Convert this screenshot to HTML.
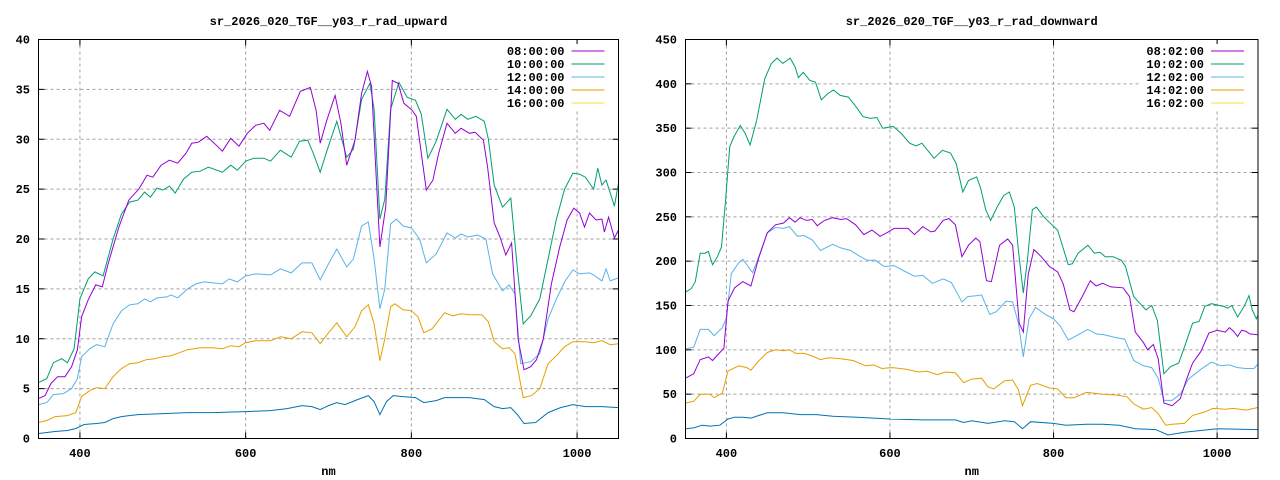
<!DOCTYPE html>
<html><head><meta charset="utf-8"><style>
html,body{margin:0;padding:0;background:#fff;}
svg{display:block;}
text{font-family:"Liberation Mono",monospace;font-size:12px;font-weight:bold;fill:#000;}
</style></head><body>
<svg id="s" width="1280" height="480" xmlns="http://www.w3.org/2000/svg"></svg>
<script>
const S=document.getElementById('s');let h='';
const L={x0:38.5,x1:618.5,y0:438.5,y1:39.5,ymax:40,ystep:5,title:'sr_2026_020_TGF__y03_r_rad_upward',lab:['08:00:00','10:00:00','12:00:00','14:00:00','16:00:00'],ylx:30};
const R={x0:685.5,x1:1258,y0:438.5,y1:39.5,ymax:450,ystep:50,title:'sr_2026_020_TGF__y03_r_rad_downward',lab:['08:02:00','10:02:00','12:02:00','14:02:00','16:02:00'],ylx:677};
const cols=['#9400d3','#009e73','#56b4e9','#e69f00','#f0e442'];
const P=a=>{let r=[];for(let i=0;i<a.length;i+=2)r.push([a[i],a[i+1]]);return r;};
L.series=[
['#0072b2',P([350,0.5,360,0.6,370,0.7,385,0.8,395,1,405,1.4,420,1.5,430,1.6,440,2,450,2.2,470,2.4,500,2.5,530,2.6,560,2.6,600,2.7,630,2.8,650,3.0,668,3.3,680,3.2,690,2.9,700,3.3,710,3.6,720,3.4,735,3.9,748,4.3,755,3.7,762,2.4,770,3.7,778,4.3,790,4.2,805,4.1,815,3.6,830,3.8,840,4.1,870,4.1,888,3.9,900,3.2,910,3,920,3.1,928,2.4,936,1.5,950,1.6,965,2.6,980,3.1,995,3.4,1010,3.2,1030,3.2,1050,3.1])],
['#e69f00',P([350,1.6,360,1.8,370,2.2,385,2.3,395,2.6,402,4.2,412,4.8,420,5.1,430,5,440,6.2,450,7,460,7.5,470,7.6,480,7.9,490,8,500,8.2,510,8.3,520,8.6,530,8.9,545,9.1,560,9.1,572,9,582,9.3,592,9.2,600,9.6,612,9.8,630,9.8,642,10.2,655,10,668,10.7,680,10.6,690,9.5,700,10.6,710,11.6,722,10.2,732,11.2,740,12.8,748,13.4,755,11.5,762,7.8,768,10,775,13.2,780,13.5,790,12.9,800,12.8,808,12.2,815,10.6,825,11,840,12.6,850,12.3,860,12.5,870,12.4,885,12.4,893,11.7,900,9.7,910,9,918,9.1,925,8.5,935,4.1,945,4.3,955,5,965,7.5,975,8.3,985,9.2,995,9.7,1010,9.7,1020,9.6,1030,9.8,1040,9.4,1050,9.5])],
['#56b4e9',P([350,3.4,360,3.6,368,4.4,380,4.5,390,5,397,6,402,8.2,412,9,420,9.4,430,9.2,440,11.5,450,12.8,460,13.4,470,13.5,478,14,485,13.7,493,14.1,505,14.2,510,14.4,518,14.1,530,15,540,15.5,550,15.7,572,15.5,580,16,590,15.7,600,16.3,612,16.5,630,16.4,642,17,655,16.6,668,17.6,680,17.6,690,15.9,700,17.5,710,19,722,17.2,730,18,740,21.3,748,21.7,755,18,762,13,768,15,775,21.5,782,22,790,21.3,800,21.1,810,20,818,17.6,830,18.5,843,20.6,853,20.1,860,20.5,868,20.2,880,20.4,890,20,898,16.5,910,14.8,918,15.4,925,14.5,932,7.5,944,7.7,955,8.5,965,12,975,14,985,15.7,995,16.9,1003,16.5,1015,16.6,1020,16.4,1030,15.8,1035,17,1040,15.8,1050,16.1])],
['#009e73',P([350,5.6,360,6,368,7.6,378,8,385,7.6,393,9,400,14,410,16,418,16.7,428,16.3,440,20,450,22.5,460,23.7,470,23.9,478,24.7,485,24.2,493,25.1,500,24.9,508,25.3,515,24.6,525,26,535,26.7,545,26.8,555,27.2,572,26.7,582,27.4,590,26.9,600,27.8,610,28.1,622,28.1,630,27.8,642,28.9,655,28.2,665,29.8,675,29.9,682,28.5,690,26.7,698,28.8,710,31.8,722,28.2,730,29,740,34,750,35.6,755,33,762,22,768,24,775,33,785,35.7,795,34.2,805,33.9,812,32.5,820,28.1,830,29.8,843,33,853,32,860,32.5,868,32,878,32.3,888,31.8,893,30,900,25.4,910,23.2,920,24.1,928,17,935,11.5,944,12.3,955,14,965,18,975,22,985,25,995,26.6,1003,26.5,1010,26.2,1020,25,1025,27.1,1030,25.4,1035,25.9,1045,23.3,1050,25.6])],
['#9400d3',P([350,4.0,358,4.3,365,5.5,373,6.2,382,6.2,390,7.2,397,8.9,402,12.2,410,13.9,419,15.4,427,15.2,434,17.5,447,21.2,459,23.9,471,25,481,26.4,488,26.2,498,27.4,508,27.9,518,27.6,528,28.6,535,29.6,543,29.7,553,30.3,562,29.6,572,28.8,582,30.1,592,29.3,602,30.6,612,31.4,622,31.6,629,30.9,641,32.9,653,32.3,666,34.8,678,35.2,685,32.9,690,29.6,698,31.9,708,34.4,715,31.6,722,27.4,732,29.9,740,34.6,747,36.8,752,35.3,757,27.2,762,19.2,769,23.2,777,35.9,784,35.6,791,33.6,801,32.9,806,32.3,811,29.2,818,24.9,826,25.9,833,28.6,843,31.6,853,30.6,860,31.1,870,30.6,877,30.7,887,29.9,892,27.2,900,21.6,907,20.2,914,18.4,921,19.6,929,9.9,936,6.9,944,7.2,951,7.9,959,9.9,969,15.5,979,19.2,988,21.9,996,23.1,1003,22.6,1009,21.2,1015,22.6,1023,21.9,1030,22,1033,20.7,1038,22.2,1045,20.1,1050,20.9])]
];
R.series=[
['#0072b2',P([350,11,360,12,370,15,380,14,392,15,402,22,410,24,420,24,430,23,440,26,450,29,470,29,490,27,510,27,530,25,560,24,600,22,640,21,680,21,690,18,700,20,720,17,740,20,752,19,762,11,772,19,800,17,815,15,840,16,860,16,880,15,900,11,925,10,940,4,960,7,980,9,1000,11,1050,10])],
['#e69f00',P([350,40,360,42,368,50,380,50,385,46,395,51,402,76,415,82,425,80,430,77,440,88,450,97,460,100,470,99,477,100,485,96,495,96,505,93,515,89,525,91,540,90,555,88,570,82,580,83,590,79,603,80,620,78,635,75,645,76,658,72,668,75,680,74,690,63,700,67,712,68,720,58,727,56,740,65,750,66,757,55,762,37,772,60,780,62,795,57,805,56,815,46,825,46,840,52,850,51,860,50,878,49,890,47,898,39,910,33,920,35,928,28,937,15,945,16,960,17,970,26,985,30,995,34,1010,33,1020,34,1035,32,1045,34,1050,35])],
['#56b4e9',P([350,101,360,103,368,123,378,123,385,116,395,125,400,136,406,186,415,198,420,202,425,196,432,187,440,206,450,232,460,238,470,237,477,239,487,228,495,229,505,224,515,212,530,219,540,215,552,212,562,206,572,201,582,201,593,194,605,195,615,190,630,183,640,184,652,175,665,180,675,176,688,154,695,160,705,161,712,162,722,140,730,143,742,155,750,154,757,130,763,92,770,135,778,148,790,140,800,135,808,127,818,111,830,117,842,123,852,118,862,117,875,114,887,112,898,88,910,82,920,80,928,68,935,43,945,43,955,50,965,67,980,78,993,86,1005,82,1015,83,1025,80,1035,79,1045,79,1050,84])],
['#009e73',P([350,165,357,169,362,177,368,209,374,209,378,211,383,196,389,205,394,216,399,269,404,329,409,340,417,353,423,344,429,331,437,359,447,406,455,423,462,429,469,423,478,429,484,419,488,407,494,413,502,404,509,402,516,382,524,389,531,393,539,387,549,385,557,376,567,363,576,361,584,362,591,350,604,352,614,344,624,333,632,330,639,333,646,325,654,316,664,325,674,322,681,310,689,278,696,291,706,295,711,282,717,258,723,246,731,261,739,274,746,278,752,261,757,212,763,164,768,201,774,258,779,261,788,250,798,241,805,235,810,220,818,196,823,197,830,209,842,218,850,209,857,210,863,205,873,205,883,201,888,194,898,160,906,152,913,145,920,150,927,133,935,73,943,81,953,85,960,103,970,130,978,132,985,149,993,152,1003,150,1008,149,1013,147,1018,150,1025,137,1033,149,1039,161,1043,145,1048,135,1050,139])],
['#9400d3',P([350,68,360,73,368,89,378,92,383,88,392,97,397,102,402,155,410,170,420,177,430,172,440,205,450,232,460,241,470,243,477,249,484,244,490,249,498,246,505,247,511,240,520,246,530,249,540,247,547,248,558,241,568,230,578,235,588,228,598,233,605,237,622,237,630,230,640,239,650,233,655,234,665,246,672,248,680,241,688,205,696,218,705,226,710,222,718,178,724,177,734,218,744,225,750,218,758,130,763,120,769,185,776,213,785,205,795,194,805,188,812,174,820,145,825,143,835,160,845,178,852,172,860,175,870,171,885,170,893,160,900,120,910,108,915,100,922,106,928,90,935,40,945,37,955,45,962,65,970,85,980,98,990,119,1000,122,1010,120,1015,125,1020,121,1025,115,1030,122,1035,121,1040,118,1050,117])]
];
function plot(c){
 const X=n=>c.x0+(n-350)*(c.x1-c.x0)/700, Y=v=>c.y0-v*(c.y0-c.y1)/c.ymax;
 const cx=(c.x0+c.x1)/2;
 h+=`<text x="${cx}" y="25" text-anchor="middle">${c.title}</text>`;
 for(let v=0;v<=c.ymax;v+=c.ystep){const y=Y(v);
  if(v>0&&v<c.ymax)h+=`<line x1="${c.x0}" x2="${c.x1}" y1="${y}" y2="${y}" stroke="#a0a0a0" stroke-dasharray="3,3"/>`;
  h+=`<line x1="${c.x0}" x2="${c.x0+6}" y1="${y}" y2="${y}" stroke="#000"/><line x1="${c.x1}" x2="${c.x1-6}" y1="${y}" y2="${y}" stroke="#000"/>`;
  h+=`<text x="${c.ylx}" y="${y+4}" text-anchor="end">${v}</text>`;}
 for(let n=400;n<=1000;n+=200){const x=X(n);
  h+=`<line x1="${x}" x2="${x}" y1="${c.y0}" y2="${c.y1}" stroke="#a0a0a0" stroke-dasharray="3,3"/>`;
  h+=`<line x1="${x}" x2="${x}" y1="${c.y0}" y2="${c.y0-6}" stroke="#000"/><line x1="${x}" x2="${x}" y1="${c.y1}" y2="${c.y1+6}" stroke="#000"/>`;
  h+=`<text x="${x}" y="457" text-anchor="middle">${n}</text>`;}
 h+=`<text x="${cx}" y="475" text-anchor="middle">nm</text>`;
 c.lab.forEach((t,i)=>{const y=51+i*13;const rx=c.x1-54;
  h+=`<rect x="${rx-64}" y="${y-7}" width="130" height="13" fill="#fff"/>`;});
 c.lab.forEach((t,i)=>{const y=51+i*13;const rx=c.x1-54;
  h+=`<text x="${rx}" y="${y+4}" text-anchor="end">${t}</text><line x1="${rx+7}" x2="${rx+40}" y1="${y}" y2="${y}" stroke="${cols[i]}"/>`;});
 c.series.forEach(s=>{h+=`<polyline fill="none" stroke="${s[0]}" stroke-width="1" points="${s[1].map(p=>X(p[0]).toFixed(1)+','+Y(p[1]).toFixed(1)).join(' ')}"/>`;});
 h+=`<rect x="${c.x0}" y="${c.y1}" width="${c.x1-c.x0}" height="${c.y0-c.y1}" fill="none" stroke="#000"/>`;
}
plot(L);plot(R);
S.innerHTML=h;
</script>
</body></html>
